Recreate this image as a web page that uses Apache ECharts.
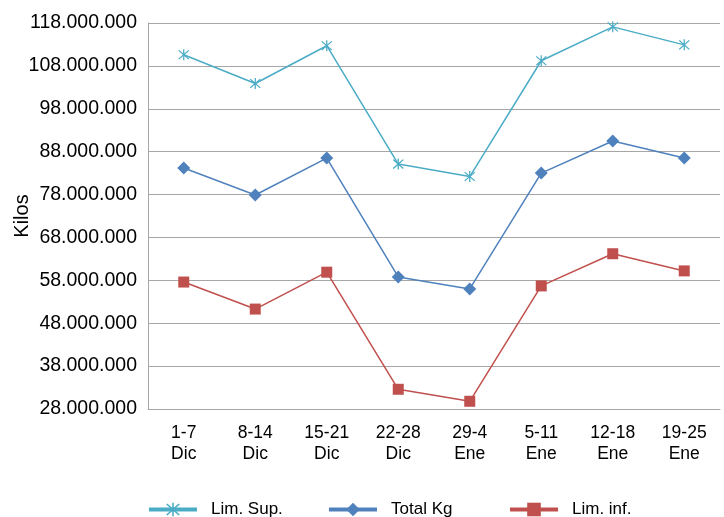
<!DOCTYPE html>
<html>
<head>
<meta charset="utf-8">
<script src="https://cdn.jsdelivr.net/npm/echarts@6/dist/echarts.min.js"></script>
<style>html,body{margin:0;padding:0;background:#fff}#c{width:724px;height:517px}</style>
</head>
<body>
<div id="c"></div>
<script>
const categories = ['1-7\nDic','8-14\nDic','15-21\nDic','22-28\nDic','29-4\nEne','5-11\nEne','12-18\nEne','19-25\nEne'];
const seriesNames = ['Lim. Sup.','Total Kg','Lim. inf.'];
const limSup = [110600000,103900000,112700000,85100000,82200000,109200000,117100000,112900000];
const totalKg = [84200000,77900000,86500000,58800000,56000000,83000000,90500000,86500000];
const limInf = [57600000,51300000,59900000,32600000,29800000,56700000,64200000,60200000];
const yMin = 28000000, yMax = 118000000, yStep = 10000000;

const asterisk = 'path://M4.5 0L5.5 0L5.5 10L4.5 10Z M1.35 0.65L9.35 8.65L8.65 9.35L0.65 1.35Z M9.35 1.35L1.35 9.35L0.65 8.65L8.65 0.65Z';
const fmt = v => String(v).replace(/\B(?=(\d{3})+(?!\d))/g, '.');
const font = 'Liberation Sans, Arial, sans-serif';
const legendLefts = [142, 322, 503];

const chart = echarts.init(document.getElementById('c'), null, {renderer:'canvas'});
chart.setOption({
  animation:false,
  textStyle:{fontFamily:font},
  grid:{left:148,right:4,top:23,bottom:108,containLabel:false,outerBoundsMode:'none'},
  legend: seriesNames.map((n,i)=>({
    top:496,left:legendLefts[i],itemWidth:48,itemHeight:17,
    lineStyle:{width:4},
    textStyle:{fontSize:17,color:'#000',fontFamily:font,padding:[0,0,0,9]},
    data:[n]
  })),
  xAxis:{
    type:'category',data:categories,boundaryGap:true,
    axisLine:{lineStyle:{color:'#A6A6A6',width:1}},
    axisTick:{show:false},
    axisLabel:{fontSize:17.5,color:'#000',lineHeight:21,margin:14,interval:0,fontFamily:font}
  },
  yAxis:{
    type:'value',min:yMin,max:yMax,interval:yStep,
    name:'Kilos',nameLocation:'middle',nameRotate:90,nameGap:116,nameMoveOverlap:false,
    nameTextStyle:{fontSize:20,color:'#000',fontFamily:font},
    axisLine:{show:true,lineStyle:{color:'#A6A6A6',width:1}},
    axisTick:{show:false},
    splitLine:{lineStyle:{color:'#A6A6A6',width:1}},
    axisLabel:{fontSize:19.5,color:'#000',margin:11,formatter:fmt,fontFamily:font}
  },
  series:[
    {name:seriesNames[0],type:'line',data:limSup,symbol:asterisk,symbolSize:11,
     itemStyle:{color:'#4BACC6'},lineStyle:{color:'#4BACC6',width:1.5}},
    {name:seriesNames[1],type:'line',data:totalKg,symbol:'diamond',symbolSize:13,
     itemStyle:{color:'#4F81BD'},lineStyle:{color:'#4F81BD',width:1.5}},
    {name:seriesNames[2],type:'line',data:limInf,symbol:'rect',symbolSize:11,
     itemStyle:{color:'#C0504D'},lineStyle:{color:'#C0504D',width:1.5}}
  ]
});
</script>
</body>
</html>
